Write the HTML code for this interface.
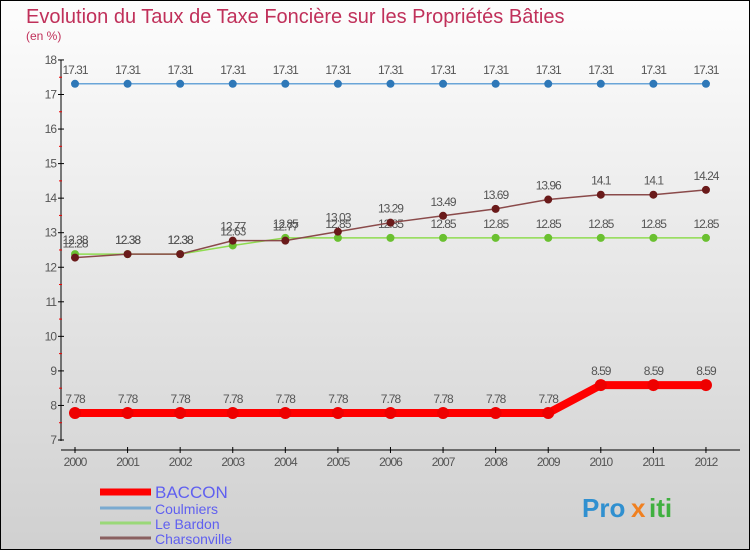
<!DOCTYPE html>
<html><head><meta charset="utf-8"><style>
body{margin:0}
#c{width:750px;height:550px;position:relative;box-sizing:border-box;border:1px solid #000;background:linear-gradient(#fdfdfd,#d0d0d0);font-family:"Liberation Sans","DejaVu Sans",sans-serif;overflow:hidden}
</style></head><body>
<div id="c">
<svg id="s" width="750" height="550" style="position:absolute;left:-1px;top:-1px"></svg>
</div>
<script>
const years=["2000","2001","2002","2003","2004","2005","2006","2007","2008","2009","2010","2011","2012"];
const yTicks=[7,8,9,10,11,12,13,14,15,16,17,18];
const baccon=[7.78,7.78,7.78,7.78,7.78,7.78,7.78,7.78,7.78,7.78,8.59,8.59,8.59];
const coulmiers=[17.31,17.31,17.31,17.31,17.31,17.31,17.31,17.31,17.31,17.31,17.31,17.31,17.31];
const bardon=[12.38,12.38,12.38,12.63,12.85,12.85,12.85,12.85,12.85,12.85,12.85,12.85,12.85];
const charson=[12.28,12.38,12.38,12.77,12.77,13.03,13.29,13.49,13.69,13.96,14.1,14.1,14.24];
const S=document.getElementById('s'),NS="http://www.w3.org/2000/svg";
function el(t,a,txt){const e=document.createElementNS(NS,t);for(const k in a)e.setAttribute(k,a[k]);if(txt!==undefined)e.textContent=txt;S.appendChild(e);return e;}
const X=i=>75+i*52.58, Y=v=>440-(v-7)*34.55;
let e;
e=el('text',{x:26,y:23,'font-size':20,fill:'#c0305a'},'Evolution du Taux de Taxe Foncière sur les Propriétés Bâties');

e=el('text',{x:26,y:40,'font-size':12,fill:'#c0305a'},'(en %)');

el('line',{x1:61,y1:60,x2:61,y2:441,stroke:'#000','stroke-width':1});
el('line',{x1:61,y1:450,x2:740,y2:450,stroke:'#000','stroke-width':1});
yTicks.forEach(v=>{el('line',{x1:58,y1:Y(v),x2:64,y2:Y(v),stroke:'#000'});
 if(v<18)el('line',{x1:59,y1:Y(v+0.5),x2:62,y2:Y(v+0.5),stroke:'#e00'});
 e=el('text',{x:56,y:Y(v)+4,'font-size':12,fill:'#555','text-anchor':'end','letter-spacing':'-1'},v);
 });
years.forEach((y,i)=>{el('line',{x1:X(i),y1:447,x2:X(i),y2:453,stroke:'#000'});
 e=el('text',{x:X(i),y:466,'font-size':12,fill:'#555','text-anchor':'middle','letter-spacing':'-1'},y);
 });
function series(d,col,dot,w,r,name){
 e=el('polyline',{points:d.map((v,i)=>X(i)+','+Y(v)).join(' '),fill:'none',stroke:col,'stroke-width':w});
 
 d.forEach((v,i)=>{e=el('circle',{cx:X(i),cy:Y(v),r:r,fill:dot});
  
  e=el('text',{x:X(i),y:Y(v)-10,'font-size':12,fill:'#555','text-anchor':'middle','letter-spacing':'-1'},String(v));
  });
}
series(coulmiers,'#6aa5d8','#2e78b8',1.5,4,'coulmiers');
series(bardon,'#8fdc50','#6ac030',1.5,4,'le-bardon');
series(charson,'#8a4a4a','#6a1a1a',1.5,4,'charsonville');
series(baccon,'#f00','#e00',8,6,'baccon');
const leg=[['BACCON','#f00',7,17],['Coulmiers','#7aaad0',3,14],['Le Bardon','#9ad878',3,14],['Charsonville','#8a6060',3,14]];
const ly=[492,508,523,538];
leg.forEach((l,i)=>{e=el('line',{x1:100,y1:ly[i],x2:151,y2:ly[i],stroke:l[1],'stroke-width':l[2]});
 
 e=el('text',{x:155,y:ly[i]+6,'font-size':l[3],fill:'#6060f0'},l[0]);
 });
e=el('text',{x:582,y:517,'font-size':26,'font-weight':'bold',fill:'#3090d0'},'Pro');

el('text',{x:631,y:517,'font-size':26,'font-weight':'bold',fill:'#f08020'},'x');
el('text',{x:649,y:517,'font-size':26,'font-weight':'bold',fill:'#40b040'},'iti');
</script>
</body></html>
